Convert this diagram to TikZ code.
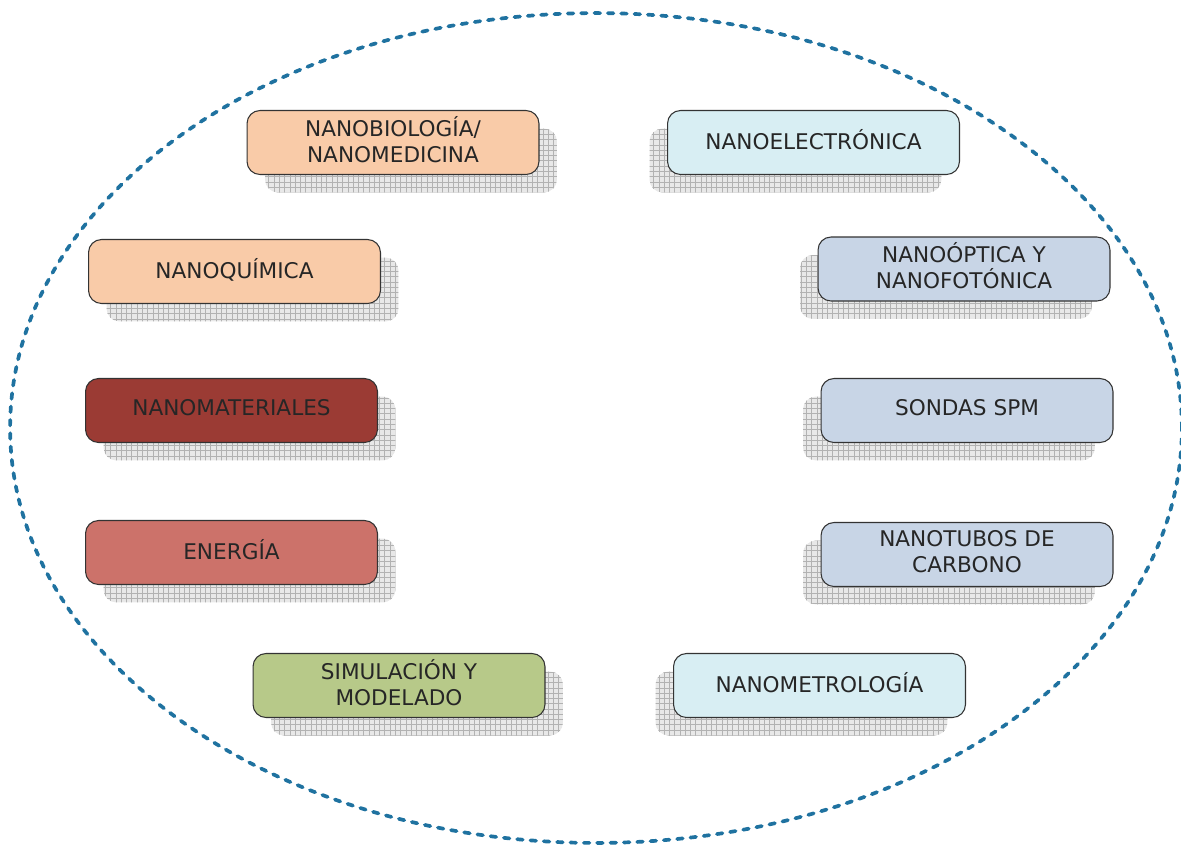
\documentclass[tikz,border=0pt]{standalone}
\usepackage{fontspec}
\setmainfont{DejaVu Sans}
\usepackage{xcolor}
\usepackage{tikz}
\usetikzlibrary{calc,positioning,patterns,shadows}

\definecolor{peach}{HTML}{F9CBA8}
\definecolor{iceblue}{HTML}{D8EEF3}
\definecolor{steel}{HTML}{C8D5E6}
\definecolor{brick}{HTML}{9B3B34}
\definecolor{salmon}{HTML}{CC726A}
\definecolor{olive}{HTML}{B7C989}
\definecolor{ringblue}{HTML}{1F72A0}

\begin{document}
\begin{tikzpicture}[x=0.02cm,y=-0.02cm,semithick]
 \tikzstyle{area}=[draw=black!80, line width=0.6pt, rounded corners=0.26cm, minimum width=5.84cm,
   minimum height=1.28cm, inner ysep=1pt, text depth=0.13cm, align=center, text=black!85,
   font=\fontsize{12.3}{14.8}\selectfont]
 \tikzstyle{shr}=[general shadow={shadow xshift=0.36cm, shadow yshift=-0.36cm, fill=gray!18},
   general shadow={shadow xshift=0.36cm, shadow yshift=-0.36cm, pattern=grid, pattern color=gray!60}]
 \tikzstyle{shl}=[general shadow={shadow xshift=-0.36cm, shadow yshift=-0.36cm, fill=gray!18},
   general shadow={shadow xshift=-0.36cm, shadow yshift=-0.36cm, pattern=grid, pattern color=gray!60}]

 \useasboundingbox (0,0) rectangle (1181,846);

 % anillo
 \draw[ringblue, line width=2.1pt, line cap=round, dash pattern=on 3.2pt off 4.4pt]
   (596,428) ellipse [x radius=11.72cm, y radius=8.3cm];

 % izquierda
 \node[area, shr, fill=peach]  (bio)  at (393,142.5) {NANOBIOLOGÍA/\\NANOMEDICINA};
 \node[area, shr, fill=peach]  (quim) at (234.5,271.5) {NANOQUÍMICA};
 \node[area, shr, fill=brick]  (mat)  at (231.5,410.5) {NANOMATERIALES};
 \node[area, shr, fill=salmon] (ener) at (231.5,552.5) {ENERGÍA};
 \node[area, shr, fill=olive]  (sim)  at (399,685.5) {SIMULACIÓN Y\\MODELADO};

 % derecha
 \node[area, shl, fill=iceblue] (elec)  at (813.5,142.5) {NANOELECTRÓNICA};
 \node[area, shl, fill=steel]   (opt)   at (964,269) {NANOÓPTICA Y\\NANOFOTÓNICA};
 \node[area, shl, fill=steel]   (spm)   at (967,410.5) {SONDAS SPM};
 \node[area, shl, fill=steel]   (tubos) at (967,554.5) {NANOTUBOS DE\\CARBONO};
 \node[area, shl, fill=iceblue] (metro) at (819.5,685.5) {NANOMETROLOGÍA};
\end{tikzpicture}
\end{document}
